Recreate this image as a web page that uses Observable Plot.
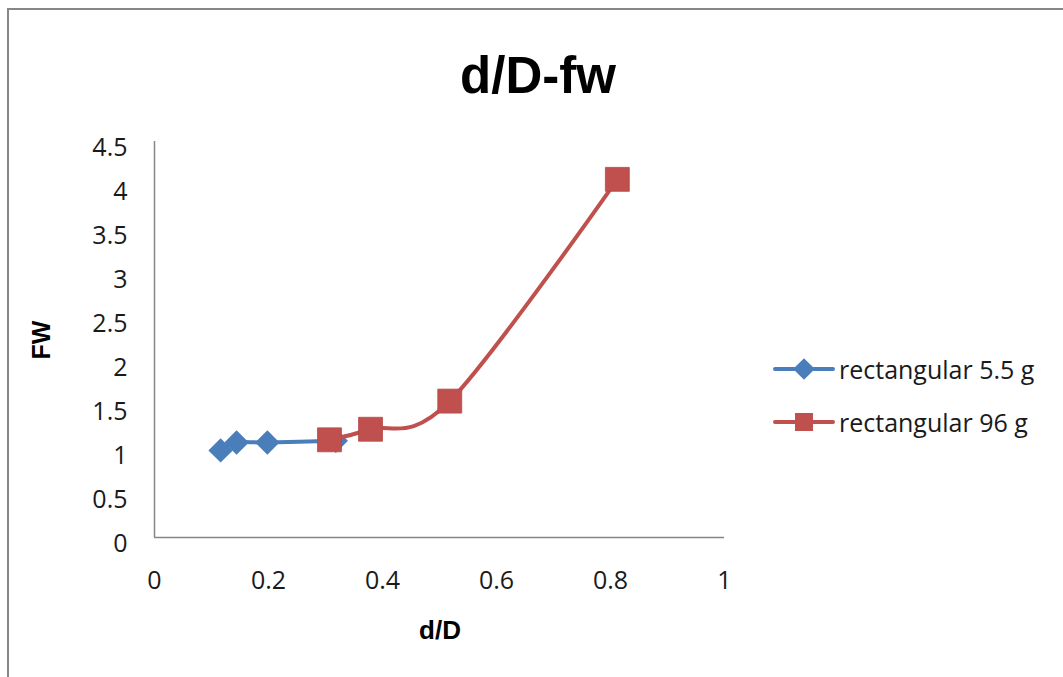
<!DOCTYPE html>
<html>
<head>
<meta charset="utf-8">
<script src="https://cdn.jsdelivr.net/npm/d3@7"></script>
<script src="https://cdn.jsdelivr.net/npm/@observablehq/plot@0.6"></script>
<style>
  html, body { margin: 0; padding: 0; background: #fff; }
  #chart { position: relative; width: 1063px; height: 677px; overflow: hidden; background: #fff; }
  #frame { position: absolute; left: 7px; top: 8px; width: 1100px; height: 720px;
           border-left: 2.5px solid #878787; border-top: 2.5px solid #878787; box-sizing: border-box; }
  #plot { position: absolute; left: 0; top: 0; }
  #overlay { position: absolute; left: 0; top: 0; pointer-events: none; }
</style>
</head>
<body>
<div id="chart">
  <div id="frame"></div>
  <div id="plot"></div>
  <svg id="overlay" width="1063" height="677"></svg>
</div>
<script>
// Series: rectangular 5.5 g
const small_dD = [0.116, 0.144, 0.198, 0.318];
const small_fw = [0.99, 1.08, 1.08, 1.10];

// Series: rectangular 96 g
const large_dD = [0.307, 0.379, 0.518, 0.812];
const large_fw = [1.11, 1.23, 1.55, 4.07];

const seriesNames = ["rectangular 5.5 g", "rectangular 96 g"];
const seriesColors = ["#4a7ebb", "#c0504d"];

const xTicks = [0, 0.2, 0.4, 0.6, 0.8, 1];
const yTicks = [0, 0.5, 1, 1.5, 2, 2.5, 3, 3.5, 4, 4.5];

const titleText = "d/D-fw";
const xLabel = "d/D";
const yLabel = "FW";

const small = small_dD.map((x, i) => ({x, y: small_fw[i]}));
const large = large_dD.map((x, i) => ({x, y: large_fw[i]}));

const tickFont = "'Open Sans', 'Noto Sans', sans-serif";
const boldFont = "'Liberation Sans', Arial, sans-serif";
const axisGray = "#868686";

const chart = Plot.plot({
  width: 1063,
  height: 677,
  marginLeft: 154,
  marginRight: 339,
  marginTop: 141,
  marginBottom: 140,
  style: {fontFamily: tickFont, fontSize: "25px", color: "#1a1a1a", background: "transparent"},
  x: {domain: [0, 1]},
  y: {domain: [0, 4.5]},
  marks: [
    Plot.axisX({ticks: xTicks, tickSize: 0, tickPadding: 34, label: null, tickFormat: d => String(d)}),
    Plot.axisY({ticks: yTicks, tickSize: 0, tickPadding: 27, dy: 6, label: null, tickFormat: d => String(d)}),
    Plot.ruleX([0], {stroke: axisGray, strokeWidth: 1.5}),
    Plot.ruleY([0], {stroke: axisGray, strokeWidth: 1.5}),
    // smoothed lines (cardinal spline, tension 0)
    Plot.line(small, {x: "x", y: "y", stroke: seriesColors[0], strokeWidth: 4, curve: "cardinal"}),
    Plot.dot(small, {x: "x", y: "y", symbol: "diamond2", r: 11, fill: seriesColors[0], stroke: "none"}),
    Plot.line(large, {x: "x", y: "y", stroke: seriesColors[1], strokeWidth: 4, curve: "cardinal"}),
    Plot.dot(large, {x: "x", y: "y", symbol: "square", r: 13.5, fill: seriesColors[1], stroke: "#b64946", strokeWidth: 0.8})
  ]
});
document.getElementById("plot").appendChild(chart);

// Title, axis titles and legend drawn on an overlay layer
const ov = d3.select("#overlay");

ov.append("text")
  .attr("x", 538).attr("y", 93)
  .attr("text-anchor", "middle")
  .style("font-family", boldFont).style("font-weight", "bold").style("font-size", "51px")
  .attr("fill", "#000")
  .text(titleText);

ov.append("text")
  .attr("x", 440).attr("y", 630)
  .attr("text-anchor", "middle").attr("dominant-baseline", "central")
  .style("font-family", boldFont).style("font-weight", "bold").style("font-size", "26px")
  .attr("fill", "#000")
  .text(xLabel);

ov.append("text")
  .attr("transform", "translate(41,340) rotate(-90)")
  .attr("text-anchor", "middle").attr("dominant-baseline", "central")
  .style("font-family", boldFont).style("font-weight", "bold").style("font-size", "25px")
  .attr("fill", "#000")
  .text(yLabel);

const legendRows = [369, 422];
seriesNames.forEach((name, i) => {
  const g = ov.append("g").attr("transform", `translate(0,${legendRows[i]})`);
  g.append("line")
    .attr("x1", 775).attr("x2", 833).attr("y1", 0).attr("y2", 0)
    .attr("stroke", seriesColors[i]).attr("stroke-width", 4).attr("stroke-linecap", "round");
  if (i === 0) {
    g.append("path")
      .attr("d", d3.symbol(d3.symbolDiamond2, 300)())
      .attr("transform", "translate(804,0)")
      .attr("fill", seriesColors[i]);
  } else {
    g.append("rect")
      .attr("x", 804 - 9).attr("y", -9).attr("width", 18).attr("height", 18)
      .attr("fill", seriesColors[i]);
  }
  g.append("text")
    .attr("x", 839).attr("y", 0)
    .attr("dominant-baseline", "central")
    .style("font-family", tickFont).style("font-size", "25px")
    .attr("fill", "#1a1a1a")
    .text(name);
});
</script>
</body>
</html>
